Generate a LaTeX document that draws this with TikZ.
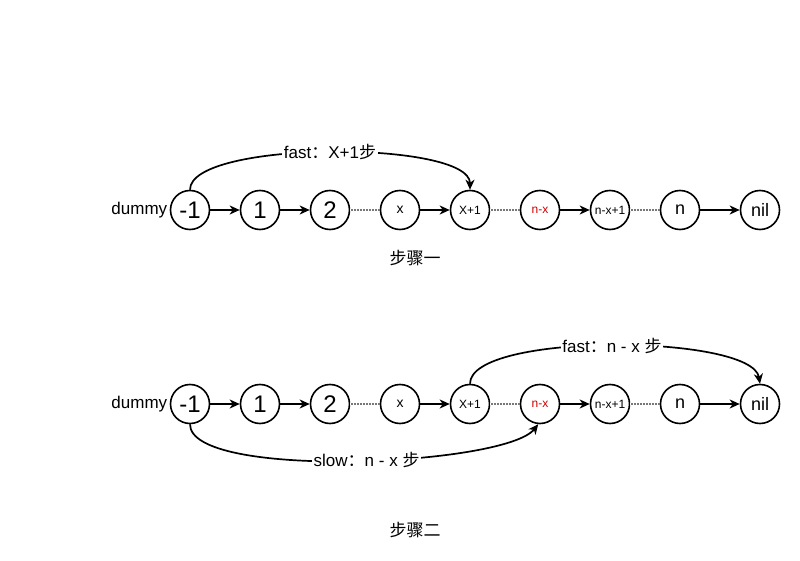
\documentclass[tikz,border=0pt]{standalone}
\usepackage{fontspec}
\setmainfont{Liberation Sans}
\newfontfamily\cjk{Noto Sans CJK SC}
\usetikzlibrary{arrows.meta}
\definecolor{nxred}{RGB}{204,0,0}
\definecolor{gapgray}{RGB}{120,120,120}
\tikzset{
  lnode/.style={circle, draw=black, line width=1.6pt, minimum size=39pt, inner sep=0pt, fill=white},
  big/.style={font=\fontsize{24}{24}\selectfont},
  mid/.style={font=\fontsize{18}{18}\selectfont},
  small/.style={font=\fontsize{12}{12}\selectfont},
  link/.style={line width=1.9pt, -{Stealth[length=10pt,width=9pt,inset=3pt]}},
  % dotted gap: grey bar broken by thin white ticks
  gap/.style={line width=2.6pt, draw=gapgray,
    postaction={draw=white, line width=2.8pt, dash pattern=on 0.7pt off 2.3pt}},
  hop/.style={line width=1.7pt, -{Stealth[length=10pt,width=9pt,inset=3pt]}},
  hoplabel/.style={fill=white, inner sep=1.5pt, font=\fontsize{17}{17}\selectfont},
  caption/.style={font=\cjk\fontsize{17}{17}\selectfont},
}
\begin{document}
\begin{tikzpicture}[x=1pt,y=-1pt]
\useasboundingbox (0,0) rectangle (800,561);

% ---- step one ----
\node[lnode, big] (a1) at (190,210) {-1};
\node[lnode, big] (b1) at (260,210) {1};
\node[lnode, big] (c1) at (330,210) {2};
\node[lnode, font=\fontsize{14}{14}\selectfont] (d1) at (400,210) {x};
\node[lnode, small] (e1) at (470,210) {X+1};
\node[lnode, small, text=nxred] (f1) at (540,210) {n-x};
\node[lnode, small] (g1) at (610,210) {n-x+1};
\node[lnode, mid] (h1) at (680,210) {n};
\node[lnode, mid] (i1) at (760,210) {nil};
\node[anchor=east, font=\fontsize{17}{17}\selectfont] (du1) at ([xshift=1pt]a1.west) {dummy};

\draw[link] (a1) -- (b1);
\draw[link] (b1) -- (c1);
\draw[gap] (c1) -- (d1);
\draw[link] (d1) -- (e1);
\draw[gap] (e1) -- (f1);
\draw[link] (f1) -- (g1);
\draw[gap] (g1) -- (h1);
\draw[link] (h1) -- (i1);

\draw[hop] (a1.north) .. controls (190,140) and (470,140) .. node[hoplabel, pos=0.5] (l1) {fast{\cjk ：}X+1{\cjk 步}} (e1.north);

\node[caption] (cap1) at (415,258) {步骤一};

% ---- step two ----
\node[lnode, big] (a2) at (190,404) {-1};
\node[lnode, big] (b2) at (260,404) {1};
\node[lnode, big] (c2) at (330,404) {2};
\node[lnode, font=\fontsize{14}{14}\selectfont] (d2) at (400,404) {x};
\node[lnode, small] (e2) at (470,404) {X+1};
\node[lnode, small, text=nxred] (f2) at (540,404) {n-x};
\node[lnode, small] (g2) at (610,404) {n-x+1};
\node[lnode, mid] (h2) at (680,404) {n};
\node[lnode, mid] (i2) at (760,404) {nil};
\node[anchor=east, font=\fontsize{17}{17}\selectfont] (du2) at ([xshift=1pt]a2.west) {dummy};

\draw[link] (a2) -- (b2);
\draw[link] (b2) -- (c2);
\draw[gap] (c2) -- (d2);
\draw[link] (d2) -- (e2);
\draw[gap] (e2) -- (f2);
\draw[link] (f2) -- (g2);
\draw[gap] (g2) -- (h2);
\draw[link] (h2) -- (i2);

\draw[hop] (e2.north) .. controls (470,332) and (752,334) .. node[hoplabel, pos=0.5] (l2) {fast{\cjk ：}n - x {\cjk 步}} (i2.north);
\draw[hop] (a2.south) .. controls (190,480) and (505,466) .. node[hoplabel, pos=0.53] (l3) {slow{\cjk ：}n - x {\cjk 步}} (f2.-95);

\node[caption] (cap2) at (415,530) {步骤二};
\end{tikzpicture}
\end{document}
